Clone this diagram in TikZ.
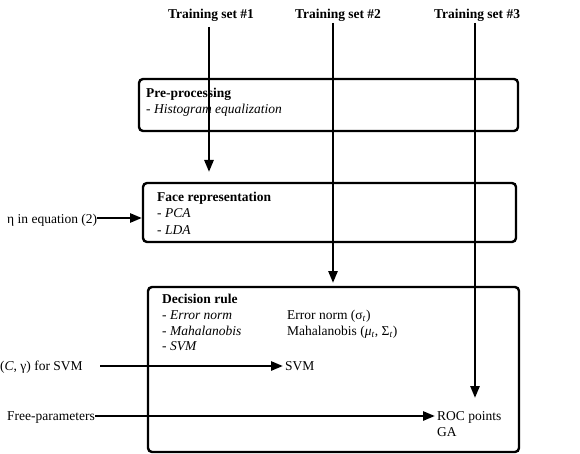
\documentclass[tikz,border=0pt]{standalone}
\usepackage{fontspec}
\setmainfont{Liberation Serif}
\usetikzlibrary{arrows.meta}
\begin{document}
\begin{tikzpicture}[x=1pt,y=-1pt,
  font=\fontsize{13.5}{15}\selectfont,
  stage/.style={draw,line width=2.4pt,rounded corners=4pt},
  conn/.style={line width=2.6pt,-{Triangle[length=12pt,width=9pt]}},
  lbl/.style={inner sep=0pt,anchor=base west},
  head/.style={inner sep=0pt,anchor=base,font=\fontsize{13.5}{15}\selectfont\bfseries}]
\useasboundingbox (0,0) rectangle (580,454);
% boxes
\draw[stage] (139,79) rectangle (518,131);
\draw[stage] (143,183) rectangle (516,242);
\coordinate (facel) at (142,218);
\draw[stage] (148,287) rectangle (519,452);
% headings
\node[head] (t1) at (211,19) {Training set \#1};
\node[head] (t2) at (338,19) {Training set \#2};
\node[head] (t3) at (477,19) {Training set \#3};
% box texts
\node[lbl] (p1) at (146,98) {\textbf{Pre-processing}};
\node[lbl] (p2) at (146,114) {- \textit{Histogram equalization}};
\node[lbl] (f1) at (157,202) {\textbf{Face representation}};
\node[lbl] (f2) at (157,218) {- \textit{PCA}};
\node[lbl] (f3) at (157,234) {- \textit{LDA}};
\node[lbl] (d1) at (162,303) {\textbf{Decision rule}};
\node[lbl] (d2) at (162,319) {- \textit{Error norm}};
\node[lbl] (d3) at (162,335) {- \textit{Mahalanobis}};
\node[lbl] (d4) at (162,350) {- \textit{SVM}};
\node[lbl] (e1) at (287,319) {Error norm (σ\textsubscript{\textit{t}})};
\node[lbl] (e2) at (287,335) {Mahalanobis (\textit{μ}\textsubscript{\textit{t}}, Σ\textsubscript{\textit{t}})};
\node[lbl] (svm) at (285,370) {SVM};
\node[lbl] (roc) at (437,420) {ROC points};
\node[lbl] (ga) at (437,436) {GA};
% left labels
\node[lbl] (eta) at (7,223) {η in equation (2)};
\node[lbl] (cg) at (0,370) {(\textit{C}, γ) for SVM};
\node[lbl] (fp) at (7,420) {Free-parameters};
% connectors
\coordinate (a1) at (209,172);
\coordinate (a2) at (333,283);
\coordinate (a3) at (475,398);
\coordinate (s1) at (209,27);
\coordinate (s2) at (333,23);
\coordinate (s3) at (475,23);
\coordinate (c0) at (100,366);
\coordinate (svmin) at (283,366);
\coordinate (rocin) at (435,416);
\draw[conn] (s1) -- (a1);
\draw[conn] (s2) -- (a2);
\draw[conn] (s3) -- (a3);
\draw[conn] (eta.base east |- facel) -- (facel);
\draw[conn] (c0) -- (svmin);
\draw[conn] (fp.base east |- rocin) -- (rocin);
\end{tikzpicture}
\end{document}
